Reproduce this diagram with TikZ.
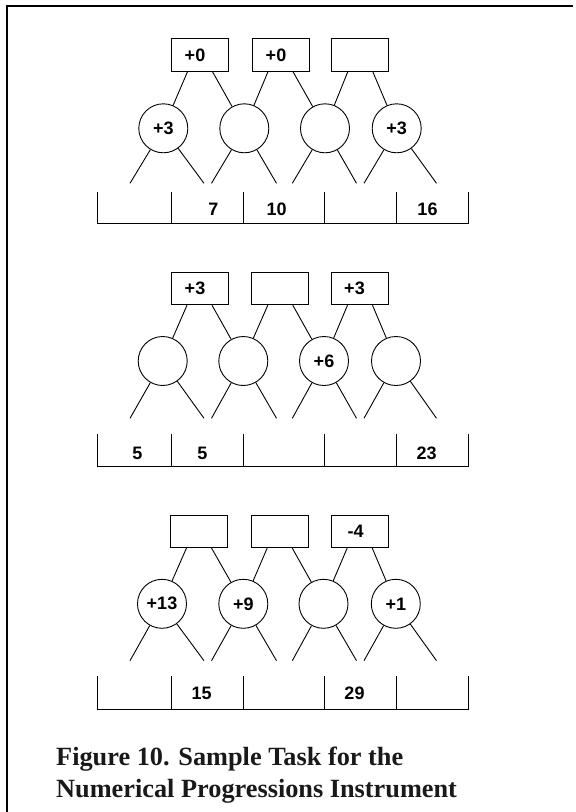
\documentclass[tikz,border=0pt]{standalone}
\usepackage{fontspec}
\setmainfont{Liberation Serif}
\setsansfont{Liberation Sans}
\begin{document}
\begin{tikzpicture}[x=1pt,y=-1pt,
  opbox/.style={draw, line width=0.9pt, minimum width=57pt, minimum height=32.5pt, inner sep=0pt},
  opcirc/.style={draw, circle, line width=0.9pt, minimum size=49pt, inner sep=0pt, font=\sffamily\bfseries\fontsize{18}{20}\selectfont},
  num/.style={inner sep=0pt, font=\sffamily\bfseries\fontsize{18}{20}\selectfont},
  link/.style={line width=0.9pt},
  frameline/.style={line width=1.8pt},
  capt/.style={inner sep=0pt, anchor=base west, font=\rmfamily\bfseries\fontsize{26.3}{31.7}\selectfont, text=black!90}
]
\newcommand{\treelinks}[2]{%
  \draw[link] ([xshift=-12.5pt]#1b1.south) -- (#1c1);
  \draw[link] ([xshift=12.5pt]#1b1.south) -- (#1c2);
  \draw[link] ([xshift=-12.5pt]#1b2.south) -- (#1c2);
  \draw[link] ([xshift=12.5pt]#1b2.south) -- (#1c3);
  \draw[link] ([xshift=-12.5pt]#1b3.south) -- (#1c3);
  \draw[link] ([xshift=12.5pt]#1b3.south) -- (#1c4);
  \coordinate (#1e1) at (130,#2);
  \coordinate (#1e2) at (204,#2);
  \coordinate (#1e3) at (211.5,#2);
  \coordinate (#1e4) at (276.5,#2);
  \coordinate (#1e5) at (292.3,#2);
  \coordinate (#1e6) at (356.5,#2);
  \coordinate (#1e7) at (364,#2);
  \coordinate (#1e8) at (436.5,#2);
  \draw[link] (#1c1) -- (#1e1);
  \draw[link] (#1c1) -- (#1e2);
  \draw[link] (#1c2) -- (#1e3);
  \draw[link] (#1c2) -- (#1e4);
  \draw[link] (#1c3) -- (#1e5);
  \draw[link] (#1c3) -- (#1e6);
  \draw[link] (#1c4) -- (#1e7);
  \draw[link] (#1c4) -- (#1e8);
}
\newcommand{\ansrow}[3]{%
  \coordinate (#1t0) at (97,#2);  \coordinate (#1u0) at (97,#3);
  \coordinate (#1t1) at (171,#2); \coordinate (#1u1) at (171,#3);
  \coordinate (#1t2) at (243.5,#2); \coordinate (#1u2) at (243.5,#3);
  \coordinate (#1t3) at (324,#2); \coordinate (#1u3) at (324,#3);
  \coordinate (#1t4) at (396,#2); \coordinate (#1u4) at (396,#3);
  \coordinate (#1t5) at (468,#2); \coordinate (#1u5) at (468,#3);
  \draw[link] (#1t0) -- (#1u0) -- (#1u5) -- (#1t5);
  \draw[link] (#1t1) -- (#1u1);
  \draw[link] (#1t2) -- (#1u2);
  \draw[link] (#1t3) -- (#1u3);
  \draw[link] (#1t4) -- (#1u4);
}
\useasboundingbox (0,0) rectangle (576,812);
% frame
\coordinate (fa) at (7.2,812);
\coordinate (fb) at (7.2,5.7);
\coordinate (fc) at (573,5.7);
\draw[frameline] (fa) -- (fb) -- (fc);

% ---------- section 1 ----------
\node[opbox] (pb1) at (200,55) {};
\node[opbox] (pb2) at (280.5,55) {};
\node[opbox] (pb3) at (360.3,55) {};
\node[num] (pb1t) at ([xshift=-5pt]pb1.center) {+0};
\node[num] (pb2t) at ([xshift=-4.5pt]pb2.center) {+0};
\node[opcirc] (pc1) at (163.3,128.3) {+3};
\node[opcirc] (pc2) at (244.3,128.3) {};
\node[opcirc] (pc3) at (325,128.3) {};
\node[opcirc] (pc4) at (396.7,128.3) {+3};
\treelinks{p}{183.3}
\ansrow{p}{191.7}{223.3}
\node[num] (pr2) at (213.3,209.3) {7};
\node[num] (pr3) at (276.7,209.3) {10};
\node[num] (pr5) at (427.5,209.3) {16};

% ---------- section 2 ----------
\node[opbox] (qb1) at (199.5,288.5) {};
\node[opbox] (qb2) at (280.3,288.5) {};
\node[opbox] (qb3) at (360,288.5) {};
\node[num] (qb1t) at ([xshift=-4.5pt]qb1.center) {+3};
\node[num] (qb3t) at ([xshift=-5.5pt]qb3.center) {+3};
\node[opcirc] (qc1) at (162.7,361) {};
\node[opcirc] (qc2) at (243.3,361) {};
\node[opcirc] (qc3) at (324,361) {+6};
\node[opcirc] (qc4) at (396,361) {};
\treelinks{q}{418.3}
\ansrow{q}{434}{466}
\node[num] (qr1) at (137.5,453) {5};
\node[num] (qr2) at (202.5,453) {5};
\node[num] (qr5) at (426.7,453) {23};

% ---------- section 3 ----------
\node[opbox] (sb1) at (199,531.3) {};
\node[opbox] (sb2) at (279.7,531.3) {};
\node[opbox] (sb3) at (359.7,531.3) {};
\node[num] (sb3t) at ([xshift=-4pt]sb3.center) {-4};
\node[opcirc] (sc1) at (162,603.8) {+13};
\node[opcirc] (sc2) at (243.3,603.8) {+9};
\node[opcirc] (sc3) at (323.5,603.8) {};
\node[opcirc] (sc4) at (395.8,603.8) {+1};
\treelinks{s}{660.7}
\ansrow{s}{676}{709.3}
\node[num] (sr2) at (201.7,693.3) {15};
\node[num] (sr4) at (354.5,693.3) {29};

% caption
\node[capt] (cap1) at (56,765.5) {Figure 10. Sample Task for the};
\node[capt] (cap2) at (56,797) {Numerical Progressions Instrument};
\end{tikzpicture}
\end{document}
